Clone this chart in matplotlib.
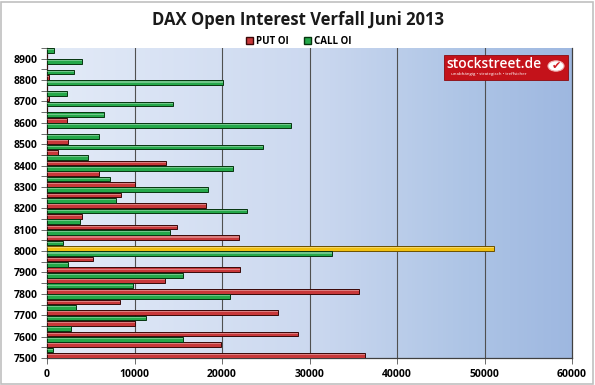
import numpy as np
import matplotlib
matplotlib.use("Agg")
import matplotlib.pyplot as plt
from matplotlib.patches import Rectangle, Circle

# Strike prices (bottom to top) and open interest per strike
strikes = [7500, 7550, 7600, 7650, 7700, 7750, 7800, 7850, 7900, 7950,
           8000, 8050, 8100, 8150, 8200, 8250, 8300, 8350, 8400, 8450,
           8500, 8550, 8600, 8650, 8700, 8750, 8800, 8850, 8900, 8950]
put_oi = [36300, 19900, 28700, 10100, 26400, 8300, 35600, 13500, 22000, 5300,
          51100, 21900, 14900, 3950, 18200, 8500, 10100, 5900, 13600, 1200,
          2350, 0, 2250, 0, 200, 0, 200, 0, 0, 0]
call_oi = [12900, 700, 15500, 2700, 11300, 3300, 20900, 9800, 15500, 2450,
           32600, 1850, 14000, 3750, 22900, 7900, 18400, 7250, 21200, 4700,
           24700, 5900, 27850, 6500, 14400, 2300, 20100, 3100, 4000, 850]
highlight_strike = 8000
x_ticks = [0, 10000, 20000, 30000, 40000, 50000, 60000]

plt.rcParams['font.family'] = ['Open Sans', 'DejaVu Sans']

fig = plt.figure(figsize=(5.95, 3.85), dpi=100)
fig.patch.set_facecolor('white')
ax = fig.add_axes([47 / 595, 27 / 385, 525 / 595, 310 / 385])

# Blue gradient background of the plot area
stops = np.array([[0.89, 0.92, 0.97],
                  [0.80, 0.85, 0.94],
                  [0.68, 0.77, 0.90],
                  [0.62, 0.72, 0.88]])
pos = np.array([0.0, 0.5, 0.8, 1.0])
t = np.linspace(0, 1, 256)
grad = np.stack([np.interp(t, pos, stops[:, c]) for c in range(3)], axis=-1)[None, :, :]
ax.imshow(grad, aspect='auto', extent=[0, 1, 0, 1], transform=ax.transAxes, zorder=0)

y = np.array(strikes)
h = 22
put_colors = ['#f0c010' if s == highlight_strike else '#c8383a' for s in strikes]
put_edges = ['#6b5000' if s == highlight_strike else '#3a0808' for s in strikes]
ax.barh(y + 12.5, put_oi, height=h, color=put_colors, edgecolor=put_edges,
        linewidth=0.7, zorder=3, label='PUT OI')
ax.barh(y - 12.5, call_oi, height=h, color='#25a84a', edgecolor='#06350f',
        linewidth=0.7, zorder=3, label='CALL OI')

# light highlight stripe on top of each bar
ax.barh(y + 16, put_oi, height=5, color='white', alpha=0.35, linewidth=0, zorder=4)
ax.barh(y - 9, call_oi, height=5, color='white', alpha=0.35, linewidth=0, zorder=4)

ax.set_xlim(0, 60000)
ax.set_ylim(7500, 8950)
ax.set_xticks(x_ticks)
ax.set_xticklabels([str(v) for v in x_ticks])
ax.set_yticks(strikes, minor=True)
ax.set_yticks(strikes[::2])
ax.set_yticklabels([str(s) for s in strikes[::2]])
for lbl in ax.get_xticklabels() + ax.get_yticklabels():
    lbl.set_fontweight('bold')
    lbl.set_fontsize(7.5)
ax.tick_params(axis='y', which='both', length=4, width=0.6, color='#555555', pad=3)
ax.tick_params(axis='x', length=4, width=0.6, color='#555555', pad=4)

for gx in x_ticks[1:-1]:
    ax.axvline(gx, color='#505050', linewidth=0.8, zorder=1)

for side in ['left', 'bottom', 'right']:
    ax.spines[side].set_color('#404040')
    ax.spines[side].set_linewidth(0.9)
ax.spines['top'].set_visible(False)

fig.text(0.5, 0.948, 'DAX Open Interest Verfall Juni 2013', ha='center', va='center',
         fontsize=12, fontweight='bold', color='#1a1a1a')

leg = fig.legend(handles=[Rectangle((0, 0), 1, 1, facecolor='#c8383a', edgecolor='#3a0808'),
                          Rectangle((0, 0), 1, 1, facecolor='#25a84a', edgecolor='#06350f')],
                 labels=['PUT OI', 'CALL OI'], loc='center', bbox_to_anchor=(0.502, 0.893),
                 ncol=2, frameon=False, fontsize=7, handlelength=0.8, handleheight=0.8,
                 handletextpad=0.3, columnspacing=1.5, borderaxespad=0)
for txt in leg.get_texts():
    txt.set_fontweight('bold')

# stockstreet.de logo box
fig.patches.append(Rectangle((444 / 595, 1 - 80 / 385), 124 / 595, 25 / 385,
                             transform=fig.transFigure, facecolor='#c4121a',
                             edgecolor='#8a0a10', linewidth=0.6, zorder=5))
fig.text(446 / 595, 1 - 64 / 385, 'stockstreet.de', ha='left', va='center',
         fontsize=10, fontweight='semibold', color='white', zorder=6)
fig.text(489 / 595, 1 - 74.5 / 385, 'unabhängig \u2022 strategisch \u2022 treffsicher',
         ha='center', va='center', fontsize=3.2, color='white', zorder=6)
fig.patches.append(Circle((556 / 595, 1 - 66 / 385), 8 / 595, transform=fig.transFigure,
                          facecolor='white', edgecolor='#f0b0b0', linewidth=0.8, zorder=6))
fig.text(556 / 595, 1 - 66 / 385, '\u2714', ha='center', va='center', fontsize=8,
         color='#d01820', family='DejaVu Sans', zorder=7)

# outer frame
fig.patches.append(Rectangle((0.002, 0.003), 0.995, 0.993, transform=fig.transFigure,
                             fill=False, edgecolor='#c0c0c0', linewidth=1.2))

fig.savefig('out.png', dpi=100)
